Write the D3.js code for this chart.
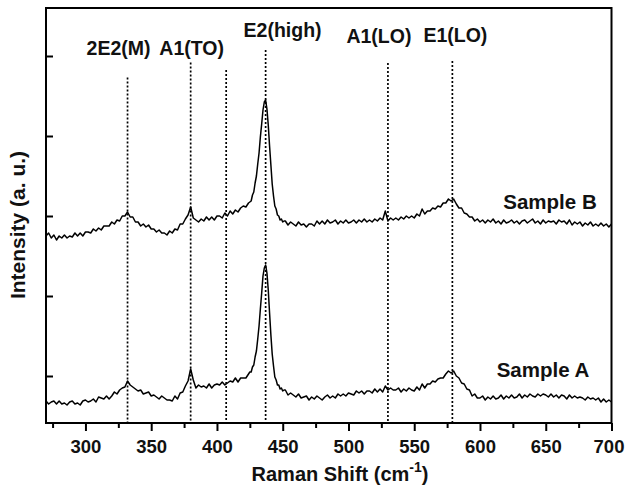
<!DOCTYPE html>
<html>
<head>
<meta charset="utf-8">
<script src="https://cdn.jsdelivr.net/npm/d3@7"></script>
<style>
  html, body { margin: 0; padding: 0; background: #fff; }
  svg { display: block; font-family: "Liberation Sans", Arial, sans-serif; font-weight: bold; }
</style>
</head>
<body>
<svg id="chart" width="625" height="495"></svg>
<script>
// Raman shift sampling grid (cm^-1): 2 cm^-1 steps, 1 cm^-1 around the E2(high) band
const ramanShift = [...d3.range(270, 425, 2), ...d3.range(425, 452, 1), ...d3.range(452, 701, 2)];

// Spectrum of sample A (a. u.)
const sampleA = [
  22, 19, 21, 22, 19, 22, 19, 20, 18, 21,
  22, 19, 20, 18, 22, 23, 21, 22, 24, 21,
  26, 25, 24, 27, 24, 27, 31, 29, 33, 35,
  36, 42, 38, 36, 34, 32, 33, 29, 30, 31,
  27, 28, 26, 24, 27, 25, 23, 23, 22, 27,
  24, 30, 31, 37, 42, 54, 43, 35, 38, 36,
  37, 35, 39, 35, 38, 39, 38, 41, 38, 40,
  42, 41, 45, 41, 45, 45, 45, 49,
  51, 51, 56, 58, 66, 72, 84, 97, 114, 130,
  147, 155, 158, 150, 133, 110, 88, 69, 57, 46,
  43, 38, 38, 34, 35, 32, 33,
  33, 28, 30, 28, 26, 29, 25, 26, 27, 23,
  26, 24, 27, 25, 23, 26, 28, 25, 27, 25,
  29, 27, 29, 27, 30, 29, 28, 32, 30, 32,
  29, 32, 32, 30, 34, 31, 34, 31, 37, 33,
  35, 33, 33, 35, 31, 34, 32, 35, 33, 32,
  36, 33, 39, 35, 39, 39, 42, 41, 44, 45,
  45, 49, 52, 50, 52, 47, 45, 40, 39, 34,
  33, 27, 29, 25, 25, 27, 23, 26, 24, 27,
  24, 25, 28, 24, 27, 25, 28, 25, 26, 29,
  25, 28, 26, 29, 27, 26, 29, 27, 29, 28,
  26, 29, 26, 28, 25, 28, 27, 24, 28, 25,
  27, 25, 26, 25, 23, 26, 24, 25, 23, 25,
  21, 24, 21, 23, 21
];

// Spectrum of sample B (a. u.)
const sampleB = [
  187, 190, 185, 188, 183, 187, 185, 188, 185, 187,
  186, 190, 187, 190, 187, 191, 191, 190, 194, 192,
  195, 193, 197, 197, 197, 201, 199, 203, 202, 207,
  207, 211, 206, 206, 201, 201, 197, 199, 196, 198,
  194, 194, 191, 193, 190, 190, 188, 192, 190, 194,
  193, 199, 199, 204, 208, 216, 205, 203, 201, 204,
  202, 206, 203, 206, 203, 207, 207, 205, 210, 207,
  212, 209, 213, 211, 215, 217, 216, 220,
  221, 222, 228, 231, 240, 247, 259, 270, 286, 299,
  313, 321, 323, 314, 298, 277, 258, 239, 227, 217,
  214, 208, 207, 203, 204, 201, 202,
  202, 198, 201, 199, 197, 201, 198, 199, 196, 199,
  199, 197, 202, 199, 202, 199, 203, 200, 201, 203,
  199, 202, 200, 203, 200, 201, 203, 200, 203, 201,
  204, 201, 203, 201, 204, 202, 205, 203, 212, 202,
  205, 203, 205, 203, 206, 204, 207, 205, 207, 205,
  209, 207, 214, 209, 212, 212, 215, 214, 217, 216,
  220, 220, 224, 222, 224, 219, 215, 215, 210, 209,
  206, 206, 202, 204, 201, 203, 200, 203, 201, 204,
  200, 202, 199, 203, 200, 201, 203, 200, 202, 199,
  202, 203, 200, 202, 204, 200, 202, 199, 203, 200,
  202, 201, 202, 199, 203, 201, 202, 199, 203, 198,
  201, 199, 201, 197, 200, 198, 201, 197, 199, 197,
  200, 197, 199, 196, 199
];

const sampleNames = ["Sample A", "Sample B"];

// Phonon mode assignments (cm^-1); the 407 line carries no label
const modeShifts = [332, 380, 407, 437, 530, 579];
const modeLabels = ["2E2(M)", "A1(TO)", "", "E2(high)", "A1(LO)", "E1(LO)"];

// Axis ticks
const shiftTicks = [300, 350, 400, 450, 500, 550, 600, 650, 700];
const shiftMinorTicks = [275, 325, 375, 425, 475, 525, 575, 625, 675];
const intensityTicks = [47, 127, 207, 287, 367];

// ---- layout ----
const svg = d3.select("#chart");
const plot = { left: 46, right: 611.5, top: 8, bottom: 423 };

const x = d3.scaleLinear().domain([270, 700]).range([plot.left, plot.right]);
const y = d3.scaleLinear().domain([0, 415]).range([plot.bottom, plot.top]);

svg.append("rect").attr("width", 625).attr("height", 495).attr("fill", "#fff");

// dotted mode markers (top end of each marker, in px)
const markerTop = [77.5, 62.5, 70, 50, 63, 61];
svg.append("g").selectAll("line").data(modeShifts).join("line")
  .attr("x1", d => x(d)).attr("x2", d => x(d))
  .attr("y1", (d, i) => markerTop[i]).attr("y2", plot.bottom)
  .attr("stroke", "#000").attr("stroke-width", 1.7)
  .attr("stroke-dasharray", "2,2");

// spectra
const line = d3.line().x((d, i) => x(ramanShift[i])).y(d => y(d));
[sampleA, sampleB].forEach(series => {
  svg.append("path").datum(series)
    .attr("d", line)
    .attr("fill", "none")
    .attr("stroke", "#000")
    .attr("stroke-width", 1.5)
    .attr("stroke-linejoin", "round");
});

// mode labels: horizontal offset from marker and baseline
const labelPlace = [
  { dx: -9, y: 55 }, { dx: 1, y: 55 }, null,
  { dx: 17, y: 36.5 }, { dx: -9, y: 43 }, { dx: 3, y: 42 }
];
modeLabels.forEach((name, i) => {
  if (!name) return;
  svg.append("text")
    .attr("x", x(modeShifts[i]) + labelPlace[i].dx)
    .attr("y", labelPlace[i].y)
    .attr("text-anchor", "middle")
    .attr("font-size", 19.5)
    .attr("fill", "#111")
    .text(name);
});

// sample labels
const samplePlace = [{ x: 543, y: 376.5 }, { x: 550, y: 209 }];
sampleNames.forEach((name, i) => {
  svg.append("text")
    .attr("x", samplePlace[i].x).attr("y", samplePlace[i].y)
    .attr("text-anchor", "middle")
    .attr("font-size", 20.5)
    .attr("fill", "#111")
    .text(name);
});

// x axis (major + minor ticks, outward)
const xMinor = svg.append("g").attr("transform", `translate(0,${plot.bottom})`)
  .call(d3.axisBottom(x).tickValues(shiftMinorTicks).tickSize(5).tickFormat(""));
xMinor.select(".domain").remove();
xMinor.selectAll("line").attr("stroke-width", 2);

const xAxis = svg.append("g").attr("transform", `translate(0,${plot.bottom})`)
  .call(d3.axisBottom(x).tickValues(shiftTicks).tickSize(8).tickPadding(9).tickSizeOuter(0));
xAxis.select(".domain").remove();
xAxis.selectAll("line").attr("stroke-width", 2);
xAxis.selectAll("text")
  .attr("font-size", 18.5)
  .attr("font-family", "Liberation Sans, Arial, sans-serif")
  .attr("font-weight", "bold")
  .attr("fill", "#111");
// keep the last label inside the page edge
xAxis.selectAll("text").filter(d => d === 700).attr("dx", -3);

// y axis (inward ticks, no labels)
const yAxis = svg.append("g").attr("transform", `translate(${plot.left},0)`)
  .call(d3.axisLeft(y).tickValues(intensityTicks).tickSize(-7).tickFormat(""));
yAxis.select(".domain").remove();
yAxis.selectAll("line").attr("stroke-width", 2);

// frame
svg.append("rect")
  .attr("x", plot.left).attr("y", plot.top)
  .attr("width", plot.right - plot.left).attr("height", plot.bottom - plot.top)
  .attr("fill", "none").attr("stroke", "#000").attr("stroke-width", 2);

// axis titles
const xTitle = svg.append("text")
  .attr("x", 340).attr("y", 481)
  .attr("text-anchor", "middle")
  .attr("font-size", 20)
  .attr("fill", "#111");
xTitle.append("tspan").text("Raman Shift (cm");
xTitle.append("tspan").attr("dy", -9).attr("font-size", 14).text("-1");
xTitle.append("tspan").attr("dy", 9).text(")");

svg.append("text")
  .attr("transform", "translate(25,225) rotate(-90)")
  .attr("text-anchor", "middle")
  .attr("font-size", 21)
  .attr("fill", "#111")
  .text("Intensity (a. u.)");
</script>
</body>
</html>
